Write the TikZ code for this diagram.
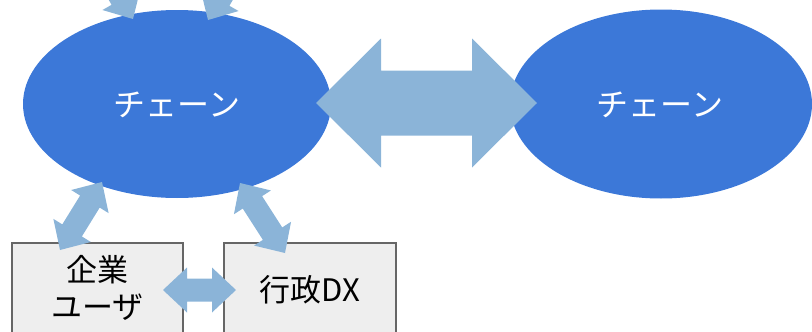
\documentclass[tikz,border=0pt]{standalone}
\usepackage{fontspec}
\setmainfont{Noto Sans CJK JP}
\usetikzlibrary{shapes.geometric,calc}
\definecolor{chainblue}{HTML}{3C78D8}
\definecolor{arrowc}{HTML}{8BB4D8}
\definecolor{boxfill}{HTML}{EEEEEE}
\definecolor{boxline}{HTML}{666666}
\newcommand\dblarr[5]{%
\fill[arrowc] let \p1=(#1), \p2=(#2), \n1={veclen(\x2-\x1,\y2-\y1)}, \n2={(\x2-\x1)/\n1}, \n3={(\y2-\y1)/\n1} in
 (\p1)
 -- ({\x1+#5*\n2-#4*\n3},{\y1+#5*\n3+#4*\n2})
 -- ({\x1+#5*\n2-#3*\n3},{\y1+#5*\n3+#3*\n2})
 -- ({\x2-#5*\n2-#3*\n3},{\y2-#5*\n3+#3*\n2})
 -- ({\x2-#5*\n2-#4*\n3},{\y2-#5*\n3+#4*\n2})
 -- (\p2)
 -- ({\x2-#5*\n2+#4*\n3},{\y2-#5*\n3-#4*\n2})
 -- ({\x2-#5*\n2+#3*\n3},{\y2-#5*\n3-#3*\n2})
 -- ({\x1+#5*\n2+#3*\n3},{\y1+#5*\n3-#3*\n2})
 -- ({\x1+#5*\n2+#4*\n3},{\y1+#5*\n3-#4*\n2})
 -- cycle;}
\tikzset{
 chain/.style={ellipse, fill=chainblue, inner sep=0pt},
 chaintext/.style={text=white, inner sep=0pt, font=\fontsize{32}{38}\selectfont},
 boxnode/.style={rectangle, fill=boxfill, draw=boxline, line width=1.5pt, inner sep=0pt},
 boxtext/.style={align=center, text=black, inner sep=0pt, font=\fontsize{31}{37}\selectfont}
}
\begin{document}
\begin{tikzpicture}[x=1pt,y=-1pt]
\useasboundingbox (0,0) rectangle (812,332);
\clip (0,0) rectangle (812,332);
% ellipses
\node[chain, minimum width=308pt, minimum height=188pt] (c1) at (177,104) {};
\node[chain, minimum width=302pt, minimum height=189pt] (c2) at (661,104) {};
\node[chaintext] (c1t) at (177,105) {チェーン};
\node[chaintext] (c2t) at (660,105) {チェーン};
% boxes
\node[boxnode, minimum width=171pt, minimum height=117pt] (ent) at (97.5,301.5) {};
\node[boxnode, minimum width=172pt, minimum height=117pt] (gov) at (310,301.5) {};
\node[boxtext] (entt) at (97.5,288) {企業\\ユーザ};
\node[boxtext] (govt) at (310,290) {行政DX};
% arrow end points
\coordinate (bigL) at (316,103);
\coordinate (bigR) at (537,103);
\coordinate (smL) at (163,290);
\coordinate (smR) at (236,290);
\coordinate (blU) at (102,182);
\coordinate (blD) at (60,250);
\coordinate (brU) at (240,183);
\coordinate (brD) at (285,253);
\coordinate (tlD) at (133,19);
\coordinate (tlU) at (83,-68);
\coordinate (trD) at (208,20);
\coordinate (trU) at (258,-67);
% arrows
\dblarr{bigL}{bigR}{32.5}{64.5}{65}
\dblarr{smL}{smR}{11.5}{22.5}{24}
\dblarr{blD}{blU}{11.5}{22}{23}
\dblarr{brD}{brU}{11.5}{22}{23}
\dblarr{tlU}{tlD}{11.5}{22}{23}
\dblarr{trU}{trD}{11.5}{22}{23}
\end{tikzpicture}
\end{document}
